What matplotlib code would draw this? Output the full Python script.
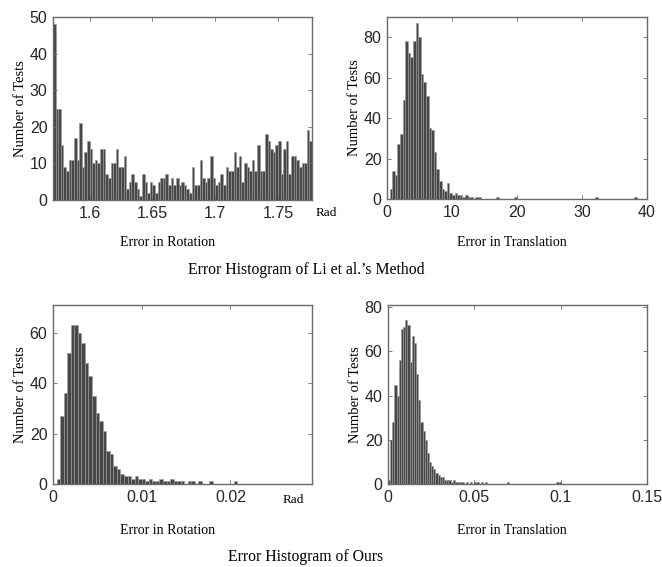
import numpy as np
import matplotlib.pyplot as plt

# counts per bin, read left to right
rot_li = [48, 25, 25, 15, 9, 8, 11, 11, 17, 11,
          21, 9, 13, 16, 14, 10, 11, 10, 14, 14,
          7, 6, 10, 10, 14, 9, 9, 12, 3, 5,
          7, 5, 3, 1, 7, 5, 2, 5, 4, 2,
          5, 6, 6, 7, 4, 6, 4, 6, 4, 5,
          4, 3, 2, 9, 4, 4, 11, 6, 5, 6,
          12, 6, 4, 5, 7, 4, 9, 8, 8, 13,
          9, 12, 5, 10, 9, 8, 11, 8, 15, 8,
          8, 18, 16, 14, 13, 15, 16, 7, 14, 16,
          7, 12, 12, 11, 9, 10, 10, 19, 16]
rot_li_range = (np.pi / 2, 1.777)

trans_li = [0, 5, 14, 12, 27, 32, 49, 78, 72, 70,
            78, 87, 80, 62, 58, 51, 35, 34, 23, 15,
            9, 5, 4, 8, 3, 2, 3, 2, 2, 1,
            2, 1, 1, 0, 1, 1, 0, 0, 0, 0,
            0, 0, 1, 0, 0, 0, 0, 0, 0, 1]
trans_li_outliers = {80: 1, 95: 1}   # bin index -> count
trans_li_bin = 0.4

rot_ours = [0, 2, 27, 36, 52, 63, 63, 60, 56, 48,
            43, 35, 28, 25, 21, 13, 12, 7, 6, 4,
            3, 3, 2, 3, 2, 2, 1, 2, 1, 1,
            2, 1, 1, 2, 1, 1, 1, 0, 1, 1,
            0, 1, 0, 0, 1, 0, 0, 0, 0, 0,
            0, 1]
rot_ours_bin = 0.0004

trans_ours = [2, 20, 28, 45, 40, 56, 70, 71, 74, 72,
              55, 67, 64, 50, 38, 28, 24, 20, 14, 10,
              8, 7, 5, 4, 3, 3, 2, 2, 2, 1,
              2, 1, 1, 1, 1, 0, 1, 0, 1, 0,
              1, 1, 0, 1, 0, 1]
trans_ours_outliers = {55: 1, 78: 1, 79: 1}
trans_ours_bin = 0.00125

BAR_FACE = '#474747'
BAR_EDGE = '#9c9c9c'
FRAME = '#6a6a6a'
TICK_FONT = 'Liberation Sans'
SERIF = 'Liberation Serif'


def expand(counts, outliers, n):
    full = np.zeros(n)
    full[:len(counts)] = counts
    for k, v in outliers.items():
        full[k] = v
    return full


def draw_hist(ax, edges, counts):
    ax.bar(edges[:-1], counts, width=np.diff(edges), align='edge',
           color=BAR_FACE, edgecolor=BAR_EDGE, linewidth=0.4)


def style(ax, xlim, ylim, xticks, yticks, xlabels=None):
    ax.set_xlim(*xlim)
    ax.set_ylim(*ylim)
    ax.set_xticks(xticks)
    ax.set_yticks(yticks)
    if xlabels is not None:
        ax.set_xticklabels(xlabels)
    ax.tick_params(direction='in', top=True, right=True, length=3,
                   width=0.6, color=FRAME, labelsize=11.5, labelcolor='#262626', pad=4)
    for lab in ax.get_xticklabels() + ax.get_yticklabels():
        lab.set_fontfamily(TICK_FONT)
    for sp in ax.spines.values():
        sp.set_color(FRAME)
        sp.set_linewidth(1.0)
    ax.set_ylabel('Number of Tests', family=SERIF, fontsize=10.5, labelpad=2)


fig = plt.figure(figsize=(6.62, 5.67), dpi=100)
W, H = 662, 567


def axes_px(left, top, right, bottom):
    return fig.add_axes([left / W, 1 - bottom / H, (right - left) / W, (bottom - top) / H])


ax1 = axes_px(53, 17, 312, 200)
ax2 = axes_px(387, 17, 647, 199)
ax3 = axes_px(53, 305, 312, 484)
ax4 = axes_px(388, 305, 647, 484)

# Li et al. rotation
e1 = np.linspace(rot_li_range[0], rot_li_range[1], len(rot_li) + 1)
draw_hist(ax1, e1, rot_li)
style(ax1, rot_li_range, (0, 50), [1.6, 1.65, 1.7, 1.75], range(0, 51, 10),
      ['1.6', '1.65', '1.7', '1.75'])

# Li et al. translation
n2 = int(round(40 / trans_li_bin))
c2 = expand(trans_li, trans_li_outliers, n2)
e2 = np.arange(n2 + 1) * trans_li_bin
draw_hist(ax2, e2, c2)
style(ax2, (0, 40), (0, 90), range(0, 41, 10), range(0, 81, 20))

# ours rotation
n3 = int(round(0.0292 / rot_ours_bin))
c3 = expand(rot_ours, {}, n3)
e3 = np.arange(n3 + 1) * rot_ours_bin
draw_hist(ax3, e3, c3)
style(ax3, (0, 0.0292), (0, 71), [0, 0.01, 0.02], range(0, 61, 20),
      ['0', '0.01', '0.02'])

# ours translation
n4 = int(round(0.15 / trans_ours_bin))
c4 = expand(trans_ours, trans_ours_outliers, n4)
e4 = np.arange(n4 + 1) * trans_ours_bin
draw_hist(ax4, e4, c4)
style(ax4, (0, 0.15), (0, 81), [0, 0.05, 0.1, 0.15], range(0, 81, 20),
      ['0', '0.05', '0.1', '0.15'])

# unit labels and captions
fig.text(316 / W, 1 - 213 / H, 'Rad', family=SERIF, fontsize=9.5, va='center')
fig.text(283 / W, 1 - 500 / H, 'Rad', family=SERIF, fontsize=9.5, va='center')

for y_sub, y_title, title in [(243, 270, "Error Histogram of Li et al.\u2019s Method"),
                              (530, 557, 'Error Histogram of Ours')]:
    fig.text(168 / W, 1 - y_sub / H, 'Error in Rotation', family=SERIF,
             fontsize=10, ha='center', va='center')
    fig.text(512 / W, 1 - y_sub / H, 'Error in Translation', family=SERIF,
             fontsize=10, ha='center', va='center')
    fig.text(306 / W, 1 - y_title / H, title, family=SERIF,
             fontsize=11.3, ha='center', va='center')

fig.savefig('out.png', dpi=100)
